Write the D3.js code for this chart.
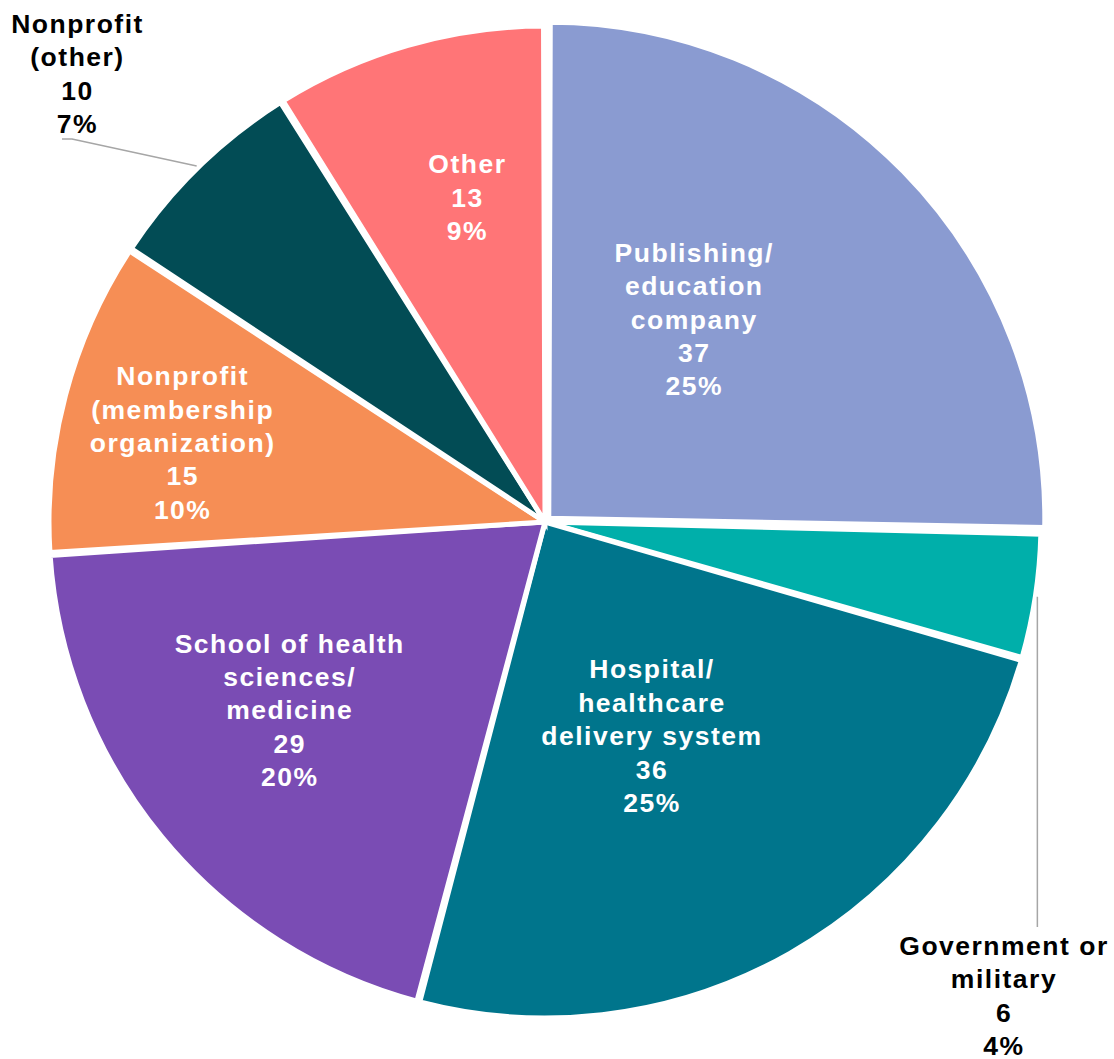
<!DOCTYPE html>
<html>
<head>
<meta charset="utf-8">
<script src="https://cdn.jsdelivr.net/npm/d3@7"></script>
<style>
  html, body { margin: 0; padding: 0; background: #fff; }
  svg { display: block; }
  text { font-family: "Liberation Sans", Arial, sans-serif; font-weight: bold; }
</style>
</head>
<body>
<svg id="chart" width="1114" height="1059"></svg>
<script>
// slice data, clockwise from 12 o'clock
var categories = ['Publishing/ education company', 'Government or military', 'Hospital/ healthcare delivery system',
  'School of health sciences/ medicine', 'Nonprofit (membership organization)', 'Nonprofit (other)', 'Other'];
var values = [37, 6, 36, 29, 15, 10, 13];
var colors = ['#8A9BD1', '#00AFAA', '#00758C', '#7A4CB4', '#F68E55', '#024C55', '#FF7577'];

// how each label is broken into lines
var labelLines = [
  ['Publishing/', 'education', 'company'],
  ['Government or', 'military'],
  ['Hospital/', 'healthcare', 'delivery system'],
  ['School of health', 'sciences/', 'medicine'],
  ['Nonprofit', '(membership', 'organization)'],
  ['Nonprofit', '(other)'],
  ['Other']
];

var W = 1114, H = 1059;
var cx = 545, cy = 522, R = 496;
var lineH = 33.4, fontSize = 26.5;

// inside labels: polar placement relative to slice bisector (deg shift, radius)
var inside = {0: [-9.3, 252], 2: [3, 239], 3: [3.1, 317], 4: [-2.4, 371], 6: [2.6, 334]};
// outside labels: text anchor + leader bends
var outside = {
  1: {x: 1004, y: 955, path: function (p) { return [p, [p[0], 927]]; }},
  5: {x: 77.5, y: 33, path: function (p) { return [p, [72, 139], [62, 139]]; }}
};

var total = d3.sum(values);
var data = values.map(function (v, i) {
  return {name: categories[i], value: v, color: colors[i], lines: labelLines[i]};
});

var svg = d3.select('#chart');
var g = svg.append('g').attr('transform', 'translate(' + cx + ',' + cy + ')');

var pie = d3.pie().sort(null).value(function (d) { return d.value; });
var arcs = pie(data);

var shrink = 0.003;
var arc = d3.arc().innerRadius(0).outerRadius(R)
  .startAngle(function (d) { return d.startAngle + shrink; })
  .endAngle(function (d) { return d.endAngle - shrink; });

function mid(d) { return (d.startAngle + d.endAngle) / 2; }

g.selectAll('path.slice')
  .data(arcs)
  .enter()
  .append('path')
  .attr('class', 'slice')
  .attr('d', arc)
  .attr('fill', function (d) { return d.data.color; })
  .attr('stroke', '#fff')
  .attr('stroke-width', 5)
  .attr('stroke-linejoin', 'miter')
  .attr('transform', function (d, i) {
    // first slice is pulled out a little
    if (i !== 0) return null;
    var a = mid(d), off = 5.3;
    return 'translate(' + (off * Math.sin(a)) + ',' + (-off * Math.cos(a)) + ')';
  });

function pct(v) { return Math.round(v / total * 100) + '%'; }

arcs.forEach(function (d, i) {
  var lines = d.data.lines.concat([String(d.data.value), pct(d.data.value)]);
  var n = lines.length;
  var x, yFirst, color;

  if (inside[i]) {
    var a = mid(d) + inside[i][0] * Math.PI / 180, r = inside[i][1];
    x = r * Math.sin(a);
    var yc = -r * Math.cos(a);
    yFirst = yc - (n - 1) / 2 * lineH + fontSize * 0.36;
    color = '#fff';
  } else {
    var o = outside[i];
    var a2 = mid(d), rr = R + 2;
    var p = [cx + rr * Math.sin(a2), cy - rr * Math.cos(a2)];
    svg.append('path')
      .attr('d', d3.line()(o.path(p)))
      .attr('fill', 'none')
      .attr('stroke', '#A6A6A6')
      .attr('stroke-width', 1.5);
    x = o.x - cx;
    yFirst = o.y - cy;
    color = '#000';
  }

  var t = g.append('text')
    .attr('text-anchor', 'middle')
    .attr('fill', color)
    .attr('font-size', fontSize)
    .attr('letter-spacing', '1.5px');
  lines.forEach(function (s, k) {
    t.append('tspan')
      .attr('x', x)
      .attr('y', yFirst + k * lineH)
      .text(s);
  });
});
</script>
</body>
</html>
